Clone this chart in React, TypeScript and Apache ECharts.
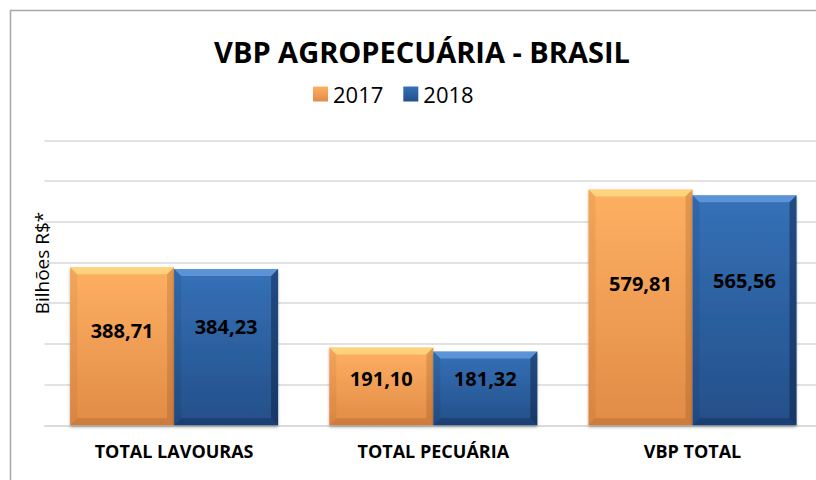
import React, { useEffect, useRef } from 'react';
import * as echarts from 'echarts';

const categories = ['TOTAL LAVOURAS', 'TOTAL PECUÁRIA', 'VBP TOTAL'];
const seriesNames = ['2017', '2018'];
const values2017 = [388.71, 191.1, 579.81];
const values2018 = [384.23, 181.32, 565.56];
const yMin = 0;
const yMax = 700;
const yInterval = 100;
const titleText = 'VBP AGROPECUÁRIA - BRASIL';
const yAxisTitle = 'Bilhões R$*';

const FONT = '"Open Sans", "Noto Sans", sans-serif';
const BAR_FRAC = 0.40125;
const BEVEL = 7;
const CHART_W = 840;

const faceColors = [
  new echarts.graphic.LinearGradient(0, 0, 0, 1, [
    { offset: 0, color: '#FEB062' },
    { offset: 1, color: '#E18B47' },
  ]),
  new echarts.graphic.LinearGradient(0, 0, 0, 1, [
    { offset: 0, color: '#3571B8' },
    { offset: 1, color: '#244F88' },
  ]),
];

const bevelColors = [
  { top: 'rgba(255,240,150,0.55)', left: 'rgba(150,80,20,0.10)', right: 'rgba(120,60,10,0.2)', bottom: 'rgba(110,55,10,0.18)' },
  { top: 'rgba(140,190,255,0.45)', left: 'rgba(10,30,70,0.10)', right: 'rgba(5,20,50,0.4)', bottom: 'rgba(5,20,50,0.25)' },
];

const fmt = (v: number) => v.toFixed(2).replace('.', ',');

function bevelSeries(idx: number, values: number[]) {
  return {
    type: 'custom',
    silent: true,
    z: 5,
    data: values.map((v, i) => [i, v]),
    renderItem: (params: any, api: any) => {
      const top = api.coord([api.value(0), api.value(1)]);
      const base = api.coord([api.value(0), 0]);
      const band = api.size([1, 0])[0];
      const w = band * BAR_FRAC;
      const x0 = top[0] + (idx === 0 ? -w : 0);
      const x1 = x0 + w;
      const y0 = top[1];
      const y1 = base[1];
      const b = BEVEL;
      const c = bevelColors[idx];
      return {
        type: 'group',
        children: [
          { type: 'polygon', shape: { points: [[x0, y0], [x1, y0], [x1 - b, y0 + b], [x0 + b, y0 + b]] }, style: { fill: c.top } },
          { type: 'polygon', shape: { points: [[x0, y0], [x0 + b, y0 + b], [x0 + b, y1 - b], [x0, y1]] }, style: { fill: c.left } },
          { type: 'polygon', shape: { points: [[x1, y0], [x1, y1], [x1 - b, y1 - b], [x1 - b, y0 + b]] }, style: { fill: c.right } },
          { type: 'polygon', shape: { points: [[x0, y1], [x0 + b, y1 - b], [x1 - b, y1 - b], [x1, y1]] }, style: { fill: c.bottom } },
        ],
      };
    },
  };
}

function barSeries(idx: number, values: number[], labelY: string) {
  return {
    name: seriesNames[idx],
    type: 'bar',
    data: values,
    barGap: '0%',
    barCategoryGap: '19.75%',
    itemStyle: {
      color: faceColors[idx],
      shadowColor: 'rgba(0,0,0,0.3)',
      shadowBlur: 3,
      shadowOffsetY: 2,
    },
    label: {
      show: true,
      position: ['50%', labelY],
      align: 'center',
      verticalAlign: 'middle',
      formatter: (p: any) => fmt(p.value),
      color: '#000',
      fontFamily: FONT,
      fontWeight: 'bold',
      fontSize: 20,
    },
    z: 2,
  };
}

export default function App() {
  const ref = useRef<HTMLDivElement>(null);
  useEffect(() => {
    if (!ref.current) return;
    const chart = echarts.init(ref.current, undefined, { renderer: 'svg' });
    chart.setOption({
      animation: false,
      backgroundColor: '#fff',
      textStyle: { fontFamily: FONT },
      grid: { left: 44.5, width: 777.6, top: 140.5, height: 284.8, containLabel: false },
      legend: {
        data: seriesNames,
        left: 308,
        top: 78,
        icon: 'rect',
        itemWidth: 15,
        itemHeight: 15,
        itemGap: 20,
        textStyle: { fontSize: 22, color: '#000', fontFamily: FONT },
      },
      xAxis: {
        type: 'category',
        data: categories,
        axisTick: { show: false },
        axisLine: { show: true, lineStyle: { color: '#D9D9D9', width: 1.5 } },
        axisLabel: { color: '#000', fontWeight: 'bold', fontSize: 18, fontFamily: FONT, margin: 17 },
      },
      yAxis: {
        type: 'value',
        min: yMin,
        max: yMax,
        interval: yInterval,
        axisLabel: { show: false },
        axisLine: { show: false },
        axisTick: { show: false },
        splitLine: { lineStyle: { color: '#D9D9D9', width: 1.5 } },
      },
      graphic: [
        {
          type: 'polyline',
          shape: { points: [[10.5, 480], [10.5, 10.5], [CHART_W, 10.5]] },
          style: { stroke: '#A6A6A6', lineWidth: 1.5, fill: 'none' },
          silent: true,
        },
        {
          type: 'text',
          x: 422,
          y: 51,
          style: { text: titleText, font: `bold 29px ${FONT}`, fill: '#000', align: 'center', verticalAlign: 'middle' },
        },
        {
          type: 'text',
          x: 42,
          y: 263,
          rotation: Math.PI / 2,
          style: { text: yAxisTitle, font: `19px ${FONT}`, fill: '#000', align: 'center', verticalAlign: 'middle' },
        },
      ],
      series: [
        barSeries(0, values2017, '40%'),
        barSeries(1, values2018, '37%'),
        bevelSeries(0, values2017),
        bevelSeries(1, values2018),
      ],
    });
    return () => chart.dispose();
  }, []);
  return (
    <div style={{ position: 'absolute', left: 0, top: 0, width: 816, height: 480, overflow: 'hidden' }}>
      <div ref={ref} style={{ width: CHART_W, height: 480 }} />
    </div>
  );
}
